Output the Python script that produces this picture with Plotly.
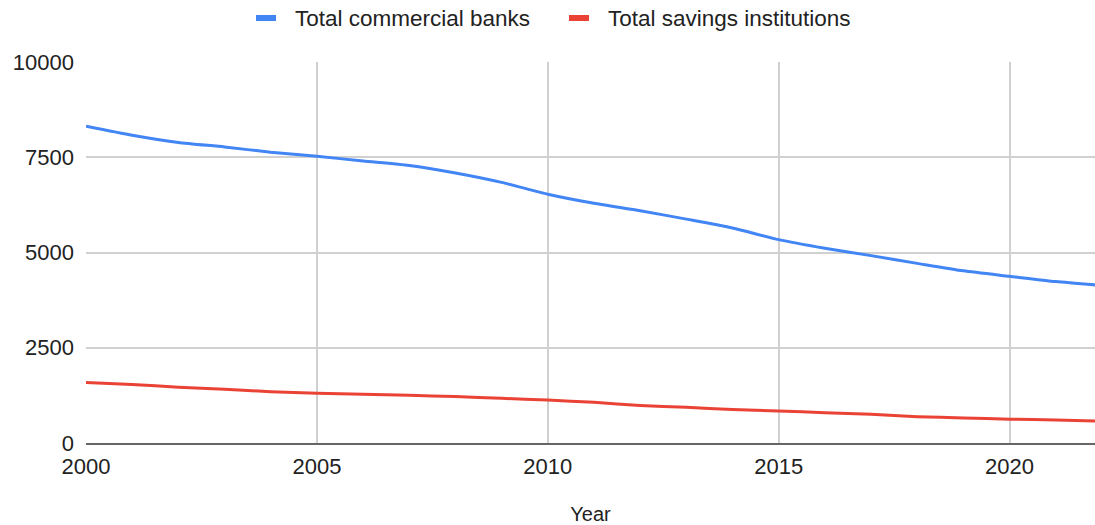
import plotly.graph_objects as go

years = list(range(2000, 2023))
commercial_banks = [8315, 8080, 7888, 7770, 7631, 7526, 7401, 7284, 7087, 6840,
                    6530, 6291, 6096, 5876, 5643, 5338, 5113, 4918, 4715, 4518,
                    4375, 4236, 4136]
savings_institutions = [1589, 1534, 1466, 1411, 1345, 1307, 1279, 1251, 1218, 1172,
                        1128, 1067, 987, 936, 876, 843, 796, 752, 691, 659,
                        626, 606, 570]
x_ticks = [2000, 2005, 2010, 2015, 2020]
y_ticks = [0, 2500, 5000, 7500, 10000]
series_names = ["Total commercial banks", "Total savings institutions"]
series_colors = ["#4285F4", "#EA4335"]

TEXT = "#222222"
FONT = "Liberation Sans, Arial, sans-serif"
W, H = 1095, 525
ML, MR, MT, MB = 86, 0, 62, 82
PW, PH = W - ML - MR, H - MT - MB


def px_to_paper(x, y):
    return (x - ML) / PW, (H - MB - y) / PH


fig = go.Figure()
for name, values, color in zip(series_names, [commercial_banks, savings_institutions], series_colors):
    fig.add_trace(go.Scatter(
        x=years, y=values, mode="lines", name=name, showlegend=False,
        line=dict(color=color, width=3, shape="spline", smoothing=0.6),
    ))

# legend row at the top: short thick swatch followed by the series name
legend_y = 18
swatch_x = [256, 569]
for name, color, sx in zip(series_names, series_colors, swatch_x):
    x0, y0 = px_to_paper(sx, legend_y)
    x1, _ = px_to_paper(sx + 20, legend_y)
    fig.add_shape(type="line", xref="paper", yref="paper", x0=x0, x1=x1, y0=y0, y1=y0,
                  line=dict(color=color, width=6))
    tx, _ = px_to_paper(sx + 37, legend_y)
    fig.add_annotation(xref="paper", yref="paper", x=tx, y=y0, xanchor="left", yanchor="middle",
                       text=name, showarrow=False, font=dict(size=22.5, color=TEXT, family=FONT))

fig.update_layout(
    width=W, height=H,
    margin=dict(l=ML, r=MR, t=MT, b=MB),
    paper_bgcolor="white", plot_bgcolor="white",
    font=dict(family=FONT, size=22, color=TEXT),
    showlegend=False,
)

fig.update_xaxes(
    range=[2000, 2021.85], tickvals=x_ticks,
    showgrid=True, gridcolor="#d0d0d0", gridwidth=2,
    showline=True, linecolor="#666666", linewidth=2,
    ticks="", tickfont=dict(size=22, color=TEXT), ticklabelstandoff=3,
    title=dict(text="Year", font=dict(size=20, color=TEXT), standoff=32),
    zeroline=False,
)
fig.update_yaxes(
    range=[0, 10000], tickvals=y_ticks, ticktext=[str(v) for v in y_ticks],
    showgrid=True, gridcolor="#d0d0d0", gridwidth=2,
    ticks="", tickfont=dict(size=22, color=TEXT), ticklabelstandoff=11,
    zeroline=False, showline=False,
)

fig.write_html("out.html")
